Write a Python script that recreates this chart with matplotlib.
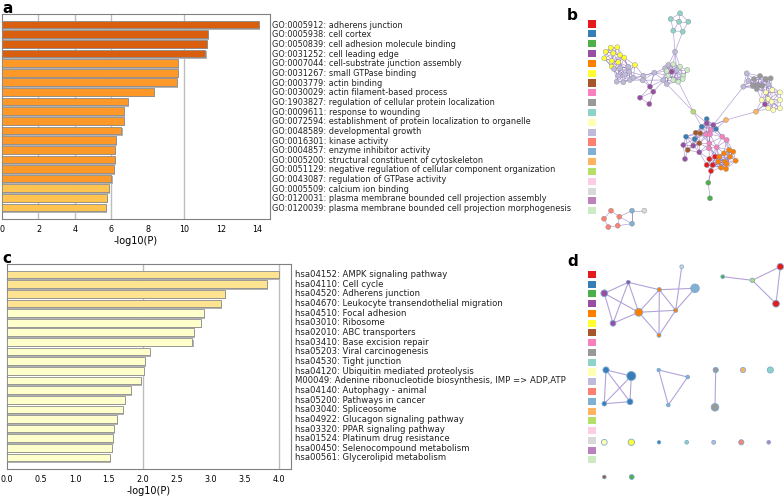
import numpy as np
import matplotlib
matplotlib.use("Agg")
import matplotlib.pyplot as plt

# ---- panel a : GO terms ----
a_terms = [
    "GO:0005912: adherens junction",
    "GO:0005938: cell cortex",
    "GO:0050839: cell adhesion molecule binding",
    "GO:0031252: cell leading edge",
    "GO:0007044: cell-substrate junction assembly",
    "GO:0031267: small GTPase binding",
    "GO:0003779: actin binding",
    "GO:0030029: actin filament-based process",
    "GO:1903827: regulation of cellular protein localization",
    "GO:0009611: response to wounding",
    "GO:0072594: establishment of protein localization to organelle",
    "GO:0048589: developmental growth",
    "GO:0016301: kinase activity",
    "GO:0004857: enzyme inhibitor activity",
    "GO:0005200: structural constituent of cytoskeleton",
    "GO:0051129: negative regulation of cellular component organization",
    "GO:0043087: regulation of GTPase activity",
    "GO:0005509: calcium ion binding",
    "GO:0120031: plasma membrane bounded cell projection assembly",
    "GO:0120039: plasma membrane bounded cell projection morphogenesis",
]
a_values = [14.1, 11.3, 11.25, 11.15, 9.65, 9.62, 9.58, 8.35, 6.9, 6.7,
            6.7, 6.55, 6.25, 6.2, 6.18, 6.15, 6.0, 5.87, 5.77, 5.72]
a_colors = ["#D95F0E"] * 4 + ["#FE9929"] * 13 + ["#FEC44F"] * 3

# ---- panel c : KEGG pathways ----
c_terms = [
    "hsa04152: AMPK signaling pathway",
    "hsa04110: Cell cycle",
    "hsa04520: Adherens junction",
    "hsa04670: Leukocyte transendothelial migration",
    "hsa04510: Focal adhesion",
    "hsa03010: Ribosome",
    "hsa02010: ABC transporters",
    "hsa03410: Base excision repair",
    "hsa05203: Viral carcinogenesis",
    "hsa04530: Tight junction",
    "hsa04120: Ubiquitin mediated proteolysis",
    "M00049: Adenine ribonucleotide biosynthesis, IMP => ADP,ATP",
    "hsa04140: Autophagy - animal",
    "hsa05200: Pathways in cancer",
    "hsa03040: Spliceosome",
    "hsa04922: Glucagon signaling pathway",
    "hsa03320: PPAR signaling pathway",
    "hsa01524: Platinum drug resistance",
    "hsa00450: Selenocompound metabolism",
    "hsa00561: Glycerolipid metabolism",
]
c_values = [4.0, 3.83, 3.21, 3.15, 2.9, 2.86, 2.75, 2.73, 2.1, 2.03,
            2.01, 1.97, 1.83, 1.73, 1.7, 1.62, 1.58, 1.56, 1.54, 1.51]
c_colors = ["#FEE391"] * 4 + ["#FFFFCC"] * 16

palette = ['#E41A1C', '#377EB8', '#4DAF4A', '#984EA3', '#FF7F00', '#FFFF33',
           '#A65628', '#F781BF', '#999999', '#8DD3C7', '#FFFFB3', '#BEBADA',
           '#FB8072', '#80B1D3', '#FDB462', '#B3DE69', '#FCCDE5', '#D9D9D9',
           '#BC80BD', '#CCEBC5']

# ---- panel b : network nodes (x, y, colour index) ----
b_x = [680, 670.7, 679, 688.3, 673.3, 682.7, 675,
       668.3, 673.3, 680, 665, 666.7, 687.3, 676.7, 668.3, 683.3, 673.3, 678.3, 682.7, 654.3, 663.3, 666.7, 671.7,
       605.7, 610.7, 617.3, 604.3, 613.3, 620, 624.3, 611.7, 618.3, 611.7, 635,
       614, 620, 628.3, 629.3, 618.3, 625, 616.7, 623.3, 630, 633.3, 643.3, 642.7,
       650, 653.3, 640, 649.3,
       746.7, 754, 760, 765.7, 770.7, 757.3, 762.3, 752.7, 748.3, 743.3, 756.7, 768.3,
       765.7, 772.3, 780, 768.3, 780, 771.7, 765, 768.3, 773.3, 780, 761.7,
       756, 726, 693.3,
       706.7, 701.7, 716, 686, 694.7,
       706, 710.7, 710, 709.3, 709, 716.7, 722.3, 726.7,
       713.3, 706.7,
       695.7, 700.3, 699.3, 687.7,
       693.3, 699.3, 685, 683.3,
       709.3, 715, 706.7, 712.7, 711,
       719.3, 724, 729, 733.3, 730, 725, 726.7, 721, 726, 735.7, 718.3,
       708.3, 710,
       611, 619.3, 617.7, 608.3, 604,
       632, 632, 644.3]
b_y = [13.3, 19, 21.7, 21.7, 30.7, 31.7, 51.7,
       65, 64.3, 66.7, 68.3, 71, 70, 70, 75.7, 75.7, 80, 81.7, 79, 72.7, 80, 84, 71.7,
       51.7, 47.7, 47.3, 58.3, 53.3, 55, 57.7, 61, 62.3, 66.7, 65,
       69, 68.3, 66.7, 71.7, 75.7, 74.3, 81.7, 82.3, 80, 77.7, 75.7, 80.3,
       86.7, 91.7, 97.7, 104,
       73.3, 79, 76, 79, 78.3, 85, 85.7, 85.7, 81, 86.7, 89, 84.3,
       92.3, 90, 92.3, 99, 100, 101.7, 104.3, 108.3, 110, 108.3, 100,
       111.7, 120, 111.7,
       119, 126.7, 129, 136.7, 139,
       134.3, 130, 134.3, 143.3, 148.3, 147.3, 136.7, 140,
       125, 123.3,
       132.7, 133.3, 143.3, 150,
       145.7, 152.3, 159, 145,
       159, 156.7, 165, 165, 171,
       156.7, 153.3, 150, 151.7, 156.7, 161.7, 164, 167.7, 169, 160.7, 161.7,
       182.7, 198.3,
       210.7, 216.7, 225.7, 227, 218.7,
       210.7, 223.7, 210.7]
b_c = [9] * 6 + [11] + \
      [11, 19, 19, 11, 19, 19, 11, 19, 19, 19, 19, 19, 11, 11, 11, 3] + \
      [5] * 11 + [11] * 12 + [3] * 4 + \
      [11, 8, 8, 8, 8, 8, 8, 8, 11, 11, 8, 11] + \
      [10] * 6 + [3] + [10] * 4 + \
      [14, 14, 15] + [1] * 5 + [7] * 8 + [3, 3] + [6] * 4 + [3] * 4 + \
      [0] * 5 + [4] * 11 + [2, 2] + [12] * 5 + [13, 13, 17]
b_extra_edges = [(4, 6), (5, 6), (6, 13), (6, 9), (21, 75), (17, 75), (59, 89),
                 (73, 68), (73, 74), (74, 89), (103, 115), (115, 116), (122, 123),
                 (19, 44), (19, 46), (20, 45), (47, 22), (75, 77), (75, 90)]

# ---- panel d : network nodes (x, y, colour index, size) ----
d_x = [604.3, 628.3, 613, 638.7, 659.3, 675.7, 659, 695, 681.7,
       722.7, 752.3, 780.3, 776,
       606, 631.3, 604.3, 630,
       658.7, 687.7, 668.3,
       715.7, 715, 743, 770.3,
       604.3, 631.3, 659, 686.7, 713.7, 741.3, 768.7,
       604.3, 631.7]
d_y = [293.3, 282.3, 323.3, 312.3, 289.7, 310.3, 335.3, 288.3, 266.7,
       276.7, 280.3, 266.7, 303.7,
       370, 376, 403.7, 401.7,
       370, 377, 405,
       370, 407.3, 370, 370,
       442.3, 442.3, 442.3, 442.3, 442.3, 442.3, 442.3,
       477, 477]
d_c = [3, 3, 3, 4, 4, 4, 4, 13, 17,
       2, 15, 0, 0,
       1, 1, 1, 1,
       13, 13, 13,
       8, 8, 14, 9,
       10, 5, 1, 9, 11, 12, 18,
       6, 2]
d_s = [24, 8, 17, 32, 9, 9, 8, 38, 7,
       7, 10, 22, 24,
       20, 42, 11, 18,
       6, 7, 7,
       14, 30, 14, 19,
       17, 21, 6, 7, 8, 14, 7,
       7, 12]
d_edges = [(0, 1), (0, 2), (0, 3), (1, 2), (1, 3), (1, 4), (2, 3), (3, 4), (3, 5), (3, 6),
           (4, 5), (4, 6), (4, 7), (5, 7), (5, 8), (5, 6),
           (9, 10), (10, 11), (10, 12), (11, 12),
           (13, 14), (13, 15), (13, 16), (14, 15), (14, 16), (15, 16),
           (17, 18), (17, 19), (18, 19), (20, 21)]

W, H = 784, 498
fig = plt.figure(figsize=(W / 100, H / 100), dpi=100)


def bar_panel(rect, values, colors, xmax, ticks, grid, fmt, shadow):
    ax = fig.add_axes(rect)
    y = np.arange(len(values))
    for g in grid:
        ax.axvline(g, color="#bdbdbd", lw=1.0, zorder=1)
    ax.barh(y + 0.17, np.array(values) + shadow, height=0.8, color="#b3b3b3", zorder=2)
    ax.barh(y, values, height=0.8, color=colors, edgecolor="#8c8c8c", lw=0.6, zorder=3)
    ax.set_xlim(0, xmax)
    ax.set_ylim(20.19, -1.095)
    ax.set_yticks([])
    ax.set_xticks(ticks)
    ax.set_xticklabels([fmt.format(t) for t in ticks])
    ax.tick_params(axis="x", length=0, labelsize=5.8, pad=4)
    for s in ax.spines.values():
        s.set_color("#808080")
        s.set_linewidth(0.8)
    ax.set_xlabel("-log10(P)", fontsize=7, labelpad=2)
    return ax


bar_panel([2 / W, 1 - 219 / H, 268 / W, 205 / H], a_values, a_colors, 14.69,
          list(range(0, 15, 2)), [2, 4, 6, 10], "{:d}", 0.06)
bar_panel([7 / W, 1 - 469 / H, 284 / W, 205 / H], c_values, c_colors, 4.18,
          list(np.arange(0, 4.01, 0.5)), [2.0, 4.0], "{:.1f}", 0.015)

# overlay in pixel coordinates for text, legends and networks
ov = fig.add_axes([0, 0, 1, 1], zorder=5)
ov.set_xlim(0, W)
ov.set_ylim(H, 0)
ov.axis("off")
ov.patch.set_alpha(0)

for i, t in enumerate(a_terms):
    ov.text(272.5, 25.2 + i * 9.65, t, fontsize=5.85, va="center", ha="left", color="#222222")
for i, t in enumerate(c_terms):
    ov.text(295, 274.6 + i * 9.65, t, fontsize=6.15, va="center", ha="left", color="#222222")

for lab, x, y in [("a", 2, 8), ("b", 567, 15), ("c", 2, 258), ("d", 567, 261)]:
    ov.text(x, y, lab, fontsize=11, fontweight="bold", va="center", ha="left")

# legend squares
ov.scatter([592] * 20, 24 + np.arange(20) * 9.83, marker="s", s=26, c=palette, lw=0)
ov.scatter([592] * 20, 274.3 + np.arange(20) * 9.77, marker="s", s=26, c=palette, lw=0)

# network b
bx, by = np.array(b_x), np.array(b_y)
edges = []
for i in range(len(bx)):
    for j in range(i + 1, len(bx)):
        if np.hypot(bx[i] - bx[j], by[i] - by[j]) < 15:
            edges.append((i, j))
edges += b_extra_edges
for i, j in edges:
    ov.plot([bx[i], bx[j]], [by[i], by[j]], color="#7b58b8", lw=0.5, alpha=0.55, zorder=1)
ov.scatter(bx, by, s=13, c=[palette[k] for k in b_c], edgecolors="#8f8f8f", lw=0.3, zorder=2)

# network d
dx, dy = np.array(d_x), np.array(d_y)
for i, j in d_edges:
    ov.plot([dx[i], dx[j]], [dy[i], dy[j]], color="#b3a3d9", lw=0.8, zorder=1)
ov.scatter(dx, dy, s=d_s, c=[palette[k] for k in d_c], edgecolors="#7fa9cf", lw=0.6, zorder=2)

fig.savefig("out.png", dpi=100)
